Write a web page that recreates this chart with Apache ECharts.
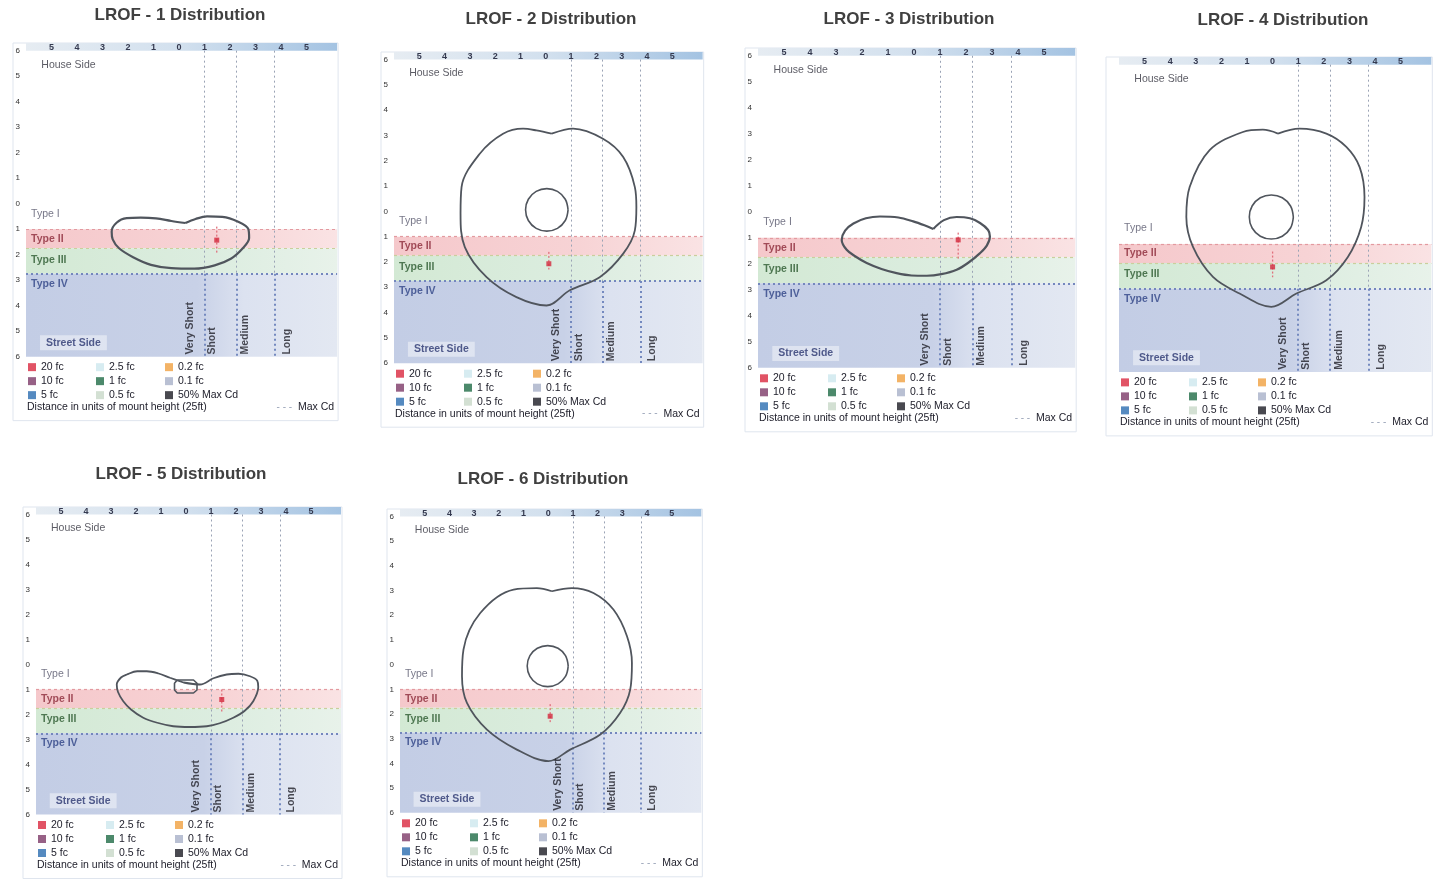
<!DOCTYPE html>
<html>
<head>
<meta charset="utf-8">
<title>LROF Distribution</title>
<script src="https://cdn.jsdelivr.net/npm/echarts@6/dist/echarts.min.js"></script>
<style>
html, body { margin: 0; padding: 0; background: #fff; }
#main { width: 1442px; height: 879px; }
</style>
</head>
<body>
<div id="main"></div>
<script>
// ---- data ----
var PANEL_TITLES = ['LROF - 1 Distribution', 'LROF - 2 Distribution', 'LROF - 3 Distribution',
    'LROF - 4 Distribution', 'LROF - 5 Distribution', 'LROF - 6 Distribution'];

// IES lateral types (street side, mount heights) and longitudinal ranges
var TYPE_LINES = [1, 1.75, 2.75];
var RANGE_LINES = [1, 2.25, 3.75];
var ZONE_NAMES = ['House Side', 'Type I', 'Type II', 'Type III', 'Type IV', 'Street Side'];
var RANGE_NAMES = ['Very Short', 'Short', 'Medium', 'Long'];

var LEGEND_NAMES = ['20 fc', '10 fc', '5 fc', '2.5 fc', '1 fc', '0.5 fc', '0.2 fc', '0.1 fc', '50% Max Cd'];

// isofootcandle contours
var CONTOUR_1 = [[0.25,-0.76],[0.65,-0.6],[1.1,-0.5],[1.7,-0.52],[2.3,-0.7],[2.72,-1.0],[2.75,-1.35],[2.5,-1.75],
    [2.05,-2.15],[1.4,-2.42],[0.6,-2.55],[-0.3,-2.53],[-1.1,-2.4],[-1.8,-2.1],[-2.35,-1.75],[-2.6,-1.4],
    [-2.64,-1.1],[-2.45,-0.75],[-2.05,-0.57],[-1.5,-0.55],[-0.9,-0.58],[-0.3,-0.68],[0.25,-0.76]];
var CONTOUR_2 = [[0.23,3.07],[1.08,3.27],[2.26,2.87],[3.06,2.15],[3.52,0.96],[3.58,0.17],[3.52,-0.75],[3.06,-1.67],
    [2.13,-2.6],[0.95,-3.12],[0.03,-3.72],[-1.16,-3.39],[-2.34,-2.6],[-3.2,-1.41],[-3.37,-0.09],[-3.33,0.96],
    [-2.61,2.28],[-1.69,3.07],[-0.9,3.27],[-0.37,3.2],[0.23,3.07]];
var CONTOUR_3 = [[0.74,-0.66],[1.15,-0.32],[1.64,-0.2],[2.15,-0.25],[2.54,-0.43],[2.85,-0.7],[2.92,-0.95],[2.8,-1.3],
    [2.54,-1.59],[2.1,-1.95],[1.64,-2.23],[1.05,-2.4],[0.49,-2.46],[-0.1,-2.45],[-0.67,-2.36],[-1.25,-2.2],
    [-1.82,-1.97],[-2.25,-1.72],[-2.59,-1.46],[-2.78,-1.08],[-2.65,-0.72],[-2.33,-0.45],[-1.85,-0.25],
    [-1.31,-0.18],[-0.6,-0.22],[-0.03,-0.37],[0.4,-0.52],[0.74,-0.66]];
var CONTOUR_4 = [[0.21,3.31],[1.05,3.5],[2.1,3.31],[2.88,2.79],[3.4,2.0],[3.59,0.83],[3.46,-0.34],[2.94,-1.51],
    [2.1,-2.42],[0.93,-2.94],[-0.05,-3.46],[-1.29,-2.94],[-2.33,-2.29],[-3.11,-1.12],[-3.37,0.05],[-3.24,1.22],
    [-2.46,2.66],[-1.16,3.37],[-0.38,3.46],[0.21,3.31]];
var CONTOUR_5 = [[-0.1,-0.72],[0.56,-0.8],[1.1,-0.55],[1.63,-0.4],[2.1,-0.37],[2.56,-0.47],[2.85,-0.65],[2.89,-0.9],
    [2.69,-1.47],[2.35,-1.85],[1.89,-2.13],[1.35,-2.35],[0.83,-2.47],[0.15,-2.5],[-0.51,-2.47],[-1.15,-2.33],
    [-1.71,-2.13],[-2.2,-1.8],[-2.51,-1.47],[-2.72,-1.1],[-2.77,-0.8],[-2.6,-0.52],[-2.37,-0.4],[-1.95,-0.27],
    [-1.57,-0.27],[-1.1,-0.36],[-0.64,-0.53],[-0.1,-0.72]];
var CONTOUR_6 = [[0.15,2.97],[0.96,3.1],[1.83,2.9],[2.64,2.23],[3.19,1.15],[3.39,0.07],[3.32,-1.01],[2.91,-1.96],
    [2.11,-2.83],[0.89,-3.44],[0.01,-3.91],[-1.27,-3.44],[-2.48,-2.63],[-3.29,-1.55],[-3.49,-0.47],[-3.43,0.61],
    [-2.75,2.09],[-1.4,3.04],[-0.46,3.1],[0.15,2.97]];

// inner contours (none on 1 and 3)
var INNER_2 = [[0.88,0.06],[0.77,0.48],[0.46,0.79],[0.04,0.9],[-0.38,0.79],[-0.69,0.48],[-0.8,0.06],
    [-0.69,-0.36],[-0.38,-0.67],[0.04,-0.78],[0.46,-0.67],[0.77,-0.36],[0.88,0.06]];
var INNER_4 = [[0.81,0.05],[0.7,0.48],[0.38,0.8],[-0.05,0.91],[-0.48,0.8],[-0.8,0.48],[-0.91,0.05],
    [-0.8,-0.38],[-0.48,-0.7],[-0.05,-0.81],[0.38,-0.7],[0.7,-0.38],[0.81,0.05]];
var INNER_5 = [[-0.35,-0.62],[0.3,-0.62],[0.44,-0.75],[0.44,-1.02],[0.3,-1.14],[-0.35,-1.14],[-0.46,-1.02],
    [-0.46,-0.75],[-0.35,-0.62]];
var INNER_6 = [[0.81,-0.06],[0.7,0.36],[0.4,0.66],[-0.02,0.77],[-0.44,0.66],[-0.74,0.36],[-0.85,-0.06],
    [-0.74,-0.48],[-0.44,-0.78],[-0.02,-0.89],[0.4,-0.78],[0.7,-0.48],[0.81,-0.06]];

var CONTOURS = [CONTOUR_1, CONTOUR_2, CONTOUR_3, CONTOUR_4, CONTOUR_5, CONTOUR_6];
var INNERS = [null, INNER_2, null, INNER_4, INNER_5, INNER_6];

// max candela point and its dotted span (y from, y to)
var MAX_CD = [[1.48,-1.43],[0.12,-2.07],[1.7,-1.08],[0,-1.9],[1.43,-1.4],[0.08,-2.09]];
var MAX_CD_SPAN = [[-0.9,-1.95],[-1.6,-2.3],[-0.8,-1.8],[-1.3,-2.3],[-1.0,-1.9],[-1.6,-2.4]];

// ---- layout / styles ----
var FONT = '"Liberation Sans", Arial, sans-serif';
var X_MIN = -6, X_MAX = 6.2, Y_MIN = -6, Y_MAX = 6.3, BAR_Y = 6;

var PANELS = [
    {left: 26, top: 43, u: 25.5, tx: 180, ty: 17, yLabels: true},
    {left: 394, top: 52, u: 25.3, tx: 551, ty: 21, yLabels: true},
    {left: 758, top: 48, u: 26, tx: 909, ty: 21, yLabels: true},
    {left: 1119, top: 57, u: 25.6, tx: 1283, ty: 22, yLabels: false},
    {left: 36, top: 507, u: 25, tx: 181, ty: 476, yLabels: true},
    {left: 400, top: 509, u: 24.7, tx: 543, ty: 481, yLabels: true}
];

var ZONE_POS = [[-5.4,5.45],[-5.8,-0.4],[-5.8,-1.38],[-5.8,-2.2],[-5.8,-3.15],[-5.45,-5.45]];
var ZONE_COLORS = ['#33333f', '#55556a', '#8c2a3a', '#2c5a30', '#2f4386', '#2a3670'];
var RANGE_LABEL_X = [0.42, 1.3, 2.6, 4.22];
var LEGEND_COLORS = ['#d9283f', '#7d3a68', '#2a6db0', '#cde7ee', '#1f6b46', '#c8d8c8', '#f0a040', '#a8b0c8', '#1b1b24'];
var LEGEND_COL = [2, 70, 139];

function grad(stops) {
    return {type: 'linear', x: 0, y: 0, x2: 1, y2: 0, colorStops: stops};
}
var BAR_FILL = grad([{offset: 0, color: '#e6ecf2'}, {offset: 0.5, color: '#d2e0ee'}, {offset: 1, color: '#a4c3e2'}]);
var PINK_FILL = grad([{offset: 0, color: '#f5c8cb'}, {offset: 0.6, color: '#f7d3d5'}, {offset: 1, color: '#fae3e4'}]);
var GREEN_FILL = grad([{offset: 0, color: '#d3e9d4'}, {offset: 0.6, color: '#dcede0'}, {offset: 1, color: '#e8f2ea'}]);
var BLUE_FILL = grad([{offset: 0, color: '#c3cde5'}, {offset: 0.55, color: '#c8d1e7'}, {offset: 0.7, color: '#dce2f0'}, {offset: 1, color: '#e3e8f2'}]);

function xTick(v) {
    return (Math.round(v) === v && Math.abs(v) <= 5) ? String(Math.abs(v)) : '';
}
function yTick(v) {
    return Math.round(v) === v ? String(Math.abs(v)) : '';
}

var option = {
    backgroundColor: '#fff',
    animation: false,
    title: [], grid: [], xAxis: [], yAxis: [], legend: [], series: [], graphic: []
};

// legend entries (shared by all panels)
LEGEND_NAMES.forEach(function (name, k) {
    option.series.push({type: 'scatter', name: name, data: [], itemStyle: {color: LEGEND_COLORS[k]}});
});

PANELS.forEach(function (p, i) {
    var w = (X_MAX - X_MIN) * p.u, h = (Y_MAX - Y_MIN) * p.u;
    var bottom = p.top + h, right = p.left + w;

    option.title.push({
        text: PANEL_TITLES[i], left: p.tx, top: p.ty - 10, textAlign: 'center', padding: 0,
        textStyle: {fontSize: 17, fontWeight: 'bold', color: '#404040', fontFamily: FONT}
    });
    option.title.push({
        text: 'Distance in units of mount height (25ft)', left: p.left + 1, top: bottom + 45, padding: 0,
        textStyle: {fontSize: 10.5, fontWeight: 'normal', color: '#22222e', fontFamily: FONT}
    });
    option.title.push({
        text: '{d|- - -}  Max Cd', left: right - 3, top: bottom + 45, textAlign: 'right', padding: 0,
        textStyle: {fontSize: 10.5, fontWeight: 'normal', color: '#22222e', fontFamily: FONT,
            rich: {d: {color: '#9aa4b8', fontSize: 10}}}
    });

    option.grid.push({left: p.left, top: p.top, width: w, height: h, containLabel: false});
    option.xAxis.push({
        gridIndex: i, type: 'value', position: 'top', min: X_MIN, max: X_MAX, interval: 1, z: 10,
        axisLine: {show: false}, axisTick: {show: false}, splitLine: {show: false},
        axisLabel: {inside: true, margin: 0, verticalAlign: 'top', fontSize: 9, fontWeight: 'bold',
            color: '#353a50', fontFamily: FONT, formatter: xTick, showMinLabel: true, showMaxLabel: true}
    });
    option.yAxis.push({
        gridIndex: i, type: 'value', min: Y_MIN, max: Y_MAX, interval: 1,
        axisLine: {show: false}, axisTick: {show: false}, splitLine: {show: false},
        axisLabel: {show: p.yLabels, margin: 6, fontSize: 8, color: '#333', fontFamily: FONT, formatter: yTick}
    });

    // frame
    option.graphic.push({
        type: 'rect', silent: true, z: -1,
        shape: {x: p.left - 13, y: p.top, width: w + 14, height: h + 64},
        style: {fill: 'none', stroke: '#dfe5ee', lineWidth: 1}
    });

    var t2 = -TYPE_LINES[0], t3 = -TYPE_LINES[1], t4 = -TYPE_LINES[2];
    var lineData = [
        [{coord: [X_MIN, t2], lineStyle: {color: '#e39aa0', width: 1.2, type: [3, 3]}}, {coord: [X_MAX, t2]}],
        [{coord: [X_MIN, t3], lineStyle: {color: '#c9cf9c', width: 1.2, type: [3, 3]}}, {coord: [X_MAX, t3]}],
        [{coord: [X_MIN, t4], lineStyle: {color: '#7487bd', width: 2, type: [2, 3]}}, {coord: [X_MAX, t4]}]
    ];
    RANGE_LINES.forEach(function (x) {
        lineData.push([{coord: [x, BAR_Y], lineStyle: {color: '#9aa3b5', width: 1, type: [2, 3]}}, {coord: [x, t4]}]);
        lineData.push([{coord: [x, t4], lineStyle: {color: '#7489bf', width: 2, type: [2, 3]}}, {coord: [x, Y_MIN]}]);
    });

    // zone bands, top bar and classification lines
    option.series.push({
        type: 'line', xAxisIndex: i, yAxisIndex: i, data: [[X_MIN, Y_MIN]], symbol: 'none', silent: true, z: 1,
        markArea: {
            silent: true,
            data: [
                [{coord: [X_MIN, Y_MAX], itemStyle: {color: BAR_FILL}}, {coord: [X_MAX, BAR_Y]}],
                [{coord: [X_MIN, t2], itemStyle: {color: PINK_FILL}}, {coord: [X_MAX, t3]}],
                [{coord: [X_MIN, t3], itemStyle: {color: GREEN_FILL}}, {coord: [X_MAX, t4]}],
                [{coord: [X_MIN, t4], itemStyle: {color: BLUE_FILL}}, {coord: [X_MAX, Y_MIN]}]
            ]
        },
        markLine: {silent: true, symbol: ['none', 'none'], label: {show: false}, data: lineData}
    });

    // contour outlines
    option.series.push({
        type: 'line', xAxisIndex: i, yAxisIndex: i, data: CONTOURS[i], smooth: 0.35, symbol: 'none',
        silent: true, z: 6, lineStyle: {color: '#50555d', width: (i === 0 || i === 2) ? 2.2 : 1.8}
    });
    if (INNERS[i]) {
        option.series.push({
            type: 'line', xAxisIndex: i, yAxisIndex: i, data: INNERS[i], smooth: i === 4 ? 0 : 0.4,
            symbol: 'none', silent: true, z: 6, lineStyle: {color: '#50555d', width: 1.6}
        });
    }

    // max cd marker
    option.series.push({
        type: 'line', xAxisIndex: i, yAxisIndex: i, symbol: 'none', silent: true, z: 5,
        data: [[MAX_CD[i][0], MAX_CD_SPAN[i][0]], [MAX_CD[i][0], MAX_CD_SPAN[i][1]]],
        lineStyle: {color: '#e0707c', width: 1.3, type: [2, 2]}
    });
    option.series.push({
        type: 'scatter', xAxisIndex: i, yAxisIndex: i, data: [MAX_CD[i]], symbol: 'rect', symbolSize: 5,
        silent: true, z: 7, itemStyle: {color: '#d3283c'}
    });

    // zone names
    option.series.push({
        type: 'scatter', xAxisIndex: i, yAxisIndex: i, symbolSize: 1, silent: true, z: 8,
        itemStyle: {color: 'transparent'},
        data: ZONE_NAMES.map(function (n, k) {
            var lab = {show: true, formatter: n, position: 'inside', align: 'left', verticalAlign: 'middle',
                fontSize: 10.5, fontFamily: FONT, color: ZONE_COLORS[k], fontWeight: k >= 2 ? 'bold' : 'normal'};
            if (n === 'Street Side') {
                lab.backgroundColor = 'rgba(255,255,255,0.55)';
                lab.padding = [2, 6];
                lab.fontWeight = 'bold';
            }
            return {value: ZONE_POS[k], label: lab};
        })
    });

    // range names, reading upwards
    option.series.push({
        type: 'scatter', xAxisIndex: i, yAxisIndex: i, symbolSize: 1, silent: true, z: 8,
        itemStyle: {color: 'transparent'},
        data: RANGE_NAMES.map(function (n, k) {
            return {value: [RANGE_LABEL_X[k], Y_MIN + 0.08], label: {show: true, formatter: n, position: 'inside',
                align: 'left', verticalAlign: 'middle', rotate: 90, fontSize: 10.5, fontWeight: 'bold',
                fontFamily: FONT, color: '#1f1f28'}};
        })
    });

    // legend, three columns
    for (var c = 0; c < 3; c++) {
        option.legend.push({
            left: p.left + LEGEND_COL[c], top: bottom + 5, orient: 'vertical', padding: 0, itemGap: 3,
            itemWidth: 8, itemHeight: 8, icon: 'rect', selectedMode: false,
            textStyle: {fontSize: 10.5, color: '#22222e', fontFamily: FONT, lineHeight: 10},
            data: LEGEND_NAMES.slice(c * 3, c * 3 + 3)
        });
    }
});

var chart = echarts.init(document.getElementById('main'));
chart.setOption(option);
</script>
</body>
</html>
